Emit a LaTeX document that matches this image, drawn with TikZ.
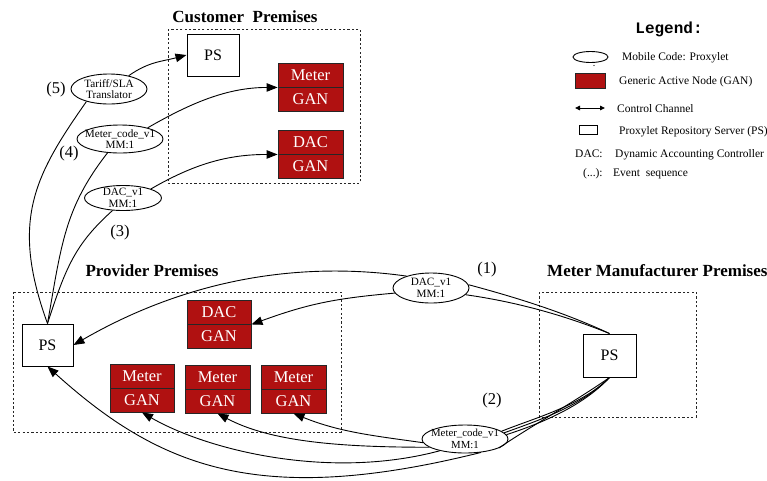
\documentclass[tikz,border=0pt]{standalone}
\usepackage{fontspec}
\setmainfont{Liberation Serif}
\newfontfamily\legendmono{Liberation Mono}
\usetikzlibrary{arrows.meta,shapes.geometric}
\definecolor{ganred}{RGB}{176,17,17}

\tikzset{
  plain/.style={line width=0.9pt},
  flow/.style={line width=0.9pt, -{Triangle[length=11pt,width=8.5pt]}},
  zone/.style={draw=black!85, line width=0.9pt, dash pattern=on 2.2pt off 2.2pt},
  psbox/.style={draw, line width=1pt, fill=white, inner sep=0pt,
    font=\fontsize{16}{18}\selectfont},
  ganhalf/.style={draw=black!85, line width=0.9pt, fill=ganred, text=white,
    inner sep=0pt, minimum width=65pt, minimum height=24pt,
    font=\fontsize{16.5}{18}\selectfont},
  prox/.style={ellipse, draw, line width=0.9pt, fill=white, inner sep=0pt},
  proxtext/.style={align=center, inner sep=0pt, font=\fontsize{11.2}{11.5}\selectfont},
  zonetitle/.style={inner sep=0pt, font=\fontsize{17}{20}\selectfont\bfseries},
  seqlabel/.style={inner sep=0pt, font=\fontsize{16.5}{18}\selectfont},
  legendtext/.style={inner sep=0pt, anchor=base west, font=\fontsize{11.5}{13}\selectfont},
}

\begin{document}
\begin{tikzpicture}[x=1pt,y=1pt]
\useasboundingbox (0,0) rectangle (767,-480);
\fill[white] (0,0) rectangle (767,-480);

% premises outlines
\draw[zone] (168,-29) rectangle (360,-183);
\draw[zone] (13,-292) rectangle (341,-432);
\draw[zone] (539,-292) rectangle (696,-417);

\node[zonetitle] (custtitle) at (245,-17) {Customer~ Premises};
\node[zonetitle] (provtitle) at (152,-271) {Provider Premises};
\node[zonetitle, anchor=west] (mmtitle) at (547,-271) {Meter Manufacturer Premises};

% proxylet servers
\node[psbox, minimum width=52pt, minimum height=42pt] (cps) at (213,-55) {PS};
\node[psbox, minimum width=51pt, minimum height=42pt] (pps) at (47.5,-345) {PS};
\node[psbox, minimum width=53pt, minimum height=43pt] (mmps) at (609.5,-355.5) {PS};

% generic active nodes
\node[ganhalf] (cmeter) at (310.5,-75) {Meter};
\node[ganhalf] (cmetergan) at (310.5,-99) {GAN};
\node[ganhalf] (cdac) at (310.5,-142) {DAC};
\node[ganhalf] (cdacgan) at (310.5,-166) {GAN};

\node[ganhalf, minimum width=64pt] (pdac) at (219,-312) {DAC};
\node[ganhalf, minimum width=64pt] (pdacgan) at (219,-336) {GAN};
\node[ganhalf, minimum width=64pt] (pmeter1) at (142,-376) {Meter};
\node[ganhalf, minimum width=64pt] (pgan1) at (142,-400) {GAN};
\node[ganhalf] (pmeter2) at (217.5,-377) {Meter};
\node[ganhalf] (pgan2) at (217.5,-401) {GAN};
\node[ganhalf] (pmeter3) at (293.5,-377) {Meter};
\node[ganhalf] (pgan3) at (293.5,-401) {GAN};

% proxylets
\node[prox, minimum width=76pt, minimum height=30pt] (tariff) at (109,-89) {};
\node[proxtext] (tariff-t) at (tariff) {Tariff/SLA\\Translator};
\node[prox, minimum width=86pt, minimum height=28pt] (cmcode) at (120,-139) {};
\node[proxtext] (cmcode-t) at (cmcode) {Meter\_code\_v1\\MM:1};
\node[prox, minimum width=77pt, minimum height=25pt] (cdacv) at (123,-198) {};
\node[proxtext] (cdacv-t) at (cdacv) {DAC\_v1\\MM:1};
\node[prox, minimum width=76pt, minimum height=30pt] (pdacv) at (431,-288) {};
\node[proxtext] (pdacv-t) at (pdacv) {DAC\_v1\\MM:1};
\node[prox, minimum width=86pt, minimum height=28pt] (pmcode) at (465,-439) {};
\node[proxtext, font=\fontsize{10.8}{11.5}\selectfont] (pmcode-t) at (pmcode) {Meter\_code\_v1\\MM:1};

% event sequence labels
\node[seqlabel] (s1) at (487,-270) {(1)};
\node[seqlabel] (s2) at (492,-401) {(2)};
\node[seqlabel] (s3) at (120,-233) {(3)};
\node[seqlabel] (s4) at (69,-154) {(4)};
\node[seqlabel] (s5) at (56,-90) {(5)};

% (1) manufacturer -> provider
\draw[plain] (mmps.north) .. controls +(155:50) and +(-15:50) .. (pdacv.5);
\draw[plain] (mmps.north) .. controls +(158:50) and +(-8:50) .. (pdacv.-11);
\draw[flow] (pdacv.154) .. controls +(172:120) and +(30:120) .. (pps.east);
\draw[flow] (pdacv.188) .. controls +(185:60) and +(20:60) .. (pdac.south east);

% (2) manufacturer -> provider meters
\draw[plain] (mmps.south) .. controls +(225:40) and +(22:35) .. (pmcode.12);
\draw[plain] (mmps.south) .. controls +(226:40) and +(20:35) .. (pmcode.9);
\draw[plain] (mmps.south) .. controls +(227:40) and +(18:35) .. (pmcode.6);
\draw[plain] (mmps.south) .. controls +(215:40) and +(35:30) .. (pmcode.-15);
\draw[flow] (pmcode.185) .. controls +(172:50) and +(-22:50) .. (pgan3.south);
\draw[flow] (pmcode.193) .. controls +(180:90) and +(-28:60) .. (pgan2.south);
\draw[flow] (pmcode.205) .. controls +(195:115) and +(-30:75) .. (pgan1.south);
\draw[flow] (pmcode.-40) .. controls +(194:230) and +(-42:150) .. (pps.south);

% (3)-(5) provider -> customer
\draw[plain] (pps.north) .. controls +(72:60) and +(222:50) .. (cdacv.230);
\draw[flow] (cdacv.18) .. controls +(30:50) and +(180:50) .. (cdac.south west);
\draw[plain] (pps.north) .. controls +(80:80) and +(232:70) .. (cmcode.228);
\draw[flow] (cmcode.22) .. controls +(30:50) and +(180:50) .. (cmeter.south west);
\draw[plain] (pps.north) .. controls +(110:110) and +(235:90) .. (tariff.209);
\draw[flow] (tariff.34) .. controls +(35:25) and +(195:25) .. (cps.west);

% legend
\node[inner sep=0pt, font={\fontsize{16}{18}\legendmono\bfseries}] (legtitle) at (669,-29) {Legend:};
\node[prox, minimum width=35pt, minimum height=11pt] (legprox) at (590.5,-57) {};
\fill (594,-65.5) circle (0.6);
\node[draw=black!85, fill=ganred, line width=0.9pt, minimum width=30pt, minimum height=15pt, inner sep=0pt] (leggan) at (590,-80.5) {};
\coordinate (legl) at (575,-108);
\coordinate (legr) at (605,-108);
\draw[line width=0.9pt, {Triangle[length=5pt,width=4.5pt]}-{Triangle[length=5pt,width=4.5pt]}] (legl) -- (legr);
\node[draw, line width=0.9pt, minimum width=18pt, minimum height=9pt, inner sep=0pt] (legps) at (588,-130) {};

\node[legendtext] (lt1) at (622,-60) {Mobile Code: Proxylet};
\node[legendtext] (lt2) at (619,-84) {Generic Active Node (GAN)};
\node[legendtext] (lt3) at (617,-112) {Control Channel};
\node[legendtext] (lt4) at (619,-134) {Proxylet Repository Server (PS)};
\node[legendtext] (lt5) at (575,-157) {DAC:};
\node[legendtext] (lt6) at (615,-157) {Dynamic Accounting Controller};
\node[legendtext] (lt7) at (583,-176) {(...):};
\node[legendtext] (lt8) at (613,-176) {Event~ sequence};
\end{tikzpicture}
\end{document}
